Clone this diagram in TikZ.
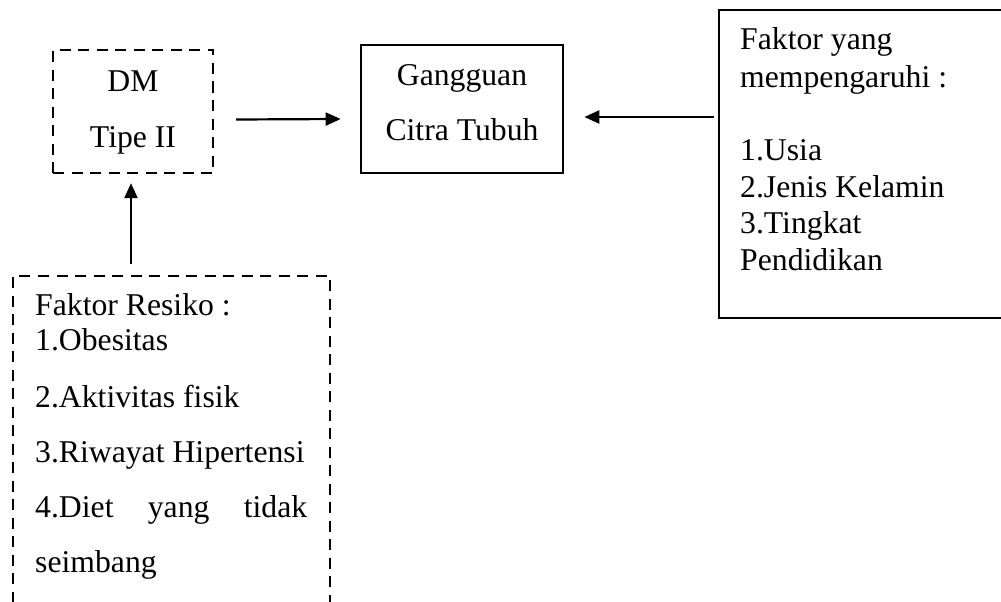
\documentclass[tikz,border=0pt]{standalone}
\usepackage{fontspec}
\setmainfont{Liberation Serif}
\usetikzlibrary{arrows.meta}
\tikzset{
	garis/.style={draw,line width=2.7pt},
	putus/.style={draw,line width=2.3pt,dash pattern=on 11pt off 7.5pt},
	teks/.style={inner sep=0pt,anchor=base west,font=\fontsize{31.7}{36}\selectfont}
}
\begin{document}
\begin{tikzpicture}[x=1pt,y=-1pt,>={Triangle[length=15pt,width=13pt]}]
		\useasboundingbox (0,0) rectangle (1001,602);
		\clip (0,0) rectangle (1001,602);

		\node[putus,minimum width=160pt,minimum height=123pt] (dm) at (133,111.5) {};
		\node[garis,minimum width=202pt,minimum height=128pt] (gangguan) at (462,109) {};
		\node[garis,minimum width=321pt,minimum height=308pt] (faktor) at (879.5,164) {};
		\node[putus,minimum width=317pt,minimum height=364pt] (risiko) at (171.5,458) {};

		\node[teks,anchor=base] (dm1) at (133,92) {DM};
		\node[teks,anchor=base] (dm2) at (133,147) {Tipe II};
		\node[teks,anchor=base] (gg1) at (462,85) {Gangguan};
		\node[teks,anchor=base] (gg2) at (462,140) {Citra Tubuh};

		\node[teks] (fk1) at (740,50) {Faktor yang};
		\node[teks] (fk2) at (740,87) {mempengaruhi :};
		\node[teks] (fk3) at (740,160) {1.Usia};
		\node[teks] (fk4) at (740,197) {2.Jenis Kelamin};
		\node[teks] (fk5) at (740,233) {3.Tingkat};
		\node[teks] (fk6) at (740,270) {Pendidikan};

		\node[teks] (rs1) at (35,315) {Faktor Resiko :};
		\node[teks] (rs2) at (35,350) {1.Obesitas};
		\node[teks] (rs3) at (35,407) {2.Aktivitas fisik};
		\node[teks] (rs4) at (35,462) {3.Riwayat Hipertensi};
		\node[teks] (rs5) at (35,517) {\makebox[272pt][s]{4.Diet yang tidak}};
		\node[teks] (rs6) at (35,572) {seimbang};

		\draw[->,line width=2.2pt] ([xshift=22pt,yshift=-8pt]dm.east) -- ([xshift=-19pt,yshift=-10pt]gangguan.west);
		\draw[->,line width=2.2pt] ([xshift=-4pt,yshift=47pt]faktor.west) -- ([xshift=20pt,yshift=-8pt]gangguan.east);
		\draw[->,line width=2.2pt] ([xshift=-40.5pt,yshift=11pt]risiko.north) -- ([xshift=-2pt,yshift=-9pt]dm.south);
	\end{tikzpicture}
\end{document}
